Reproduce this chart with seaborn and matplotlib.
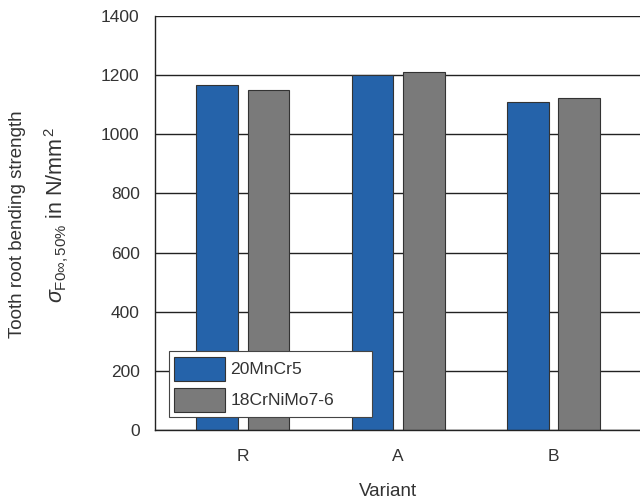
import pandas as pd
import seaborn as sns
import matplotlib.pyplot as plt

variants = ['R', 'A', 'B']
materials = ['20MnCr5', '18CrNiMo7-6']
strength_20mncr5 = [1168, 1202, 1110]
strength_18crnimo = [1149, 1211, 1122]
colors = ['#2563aa', '#7a7a7a']

df = pd.DataFrame({
    'variant': variants * 2,
    'material': [materials[0]] * 3 + [materials[1]] * 3,
    'strength': strength_20mncr5 + strength_18crnimo,
})

sns.set_style('white')
plt.rcParams['font.family'] = ['Liberation Sans', 'DejaVu Sans']
plt.rcParams['mathtext.fontset'] = 'custom'
plt.rcParams['mathtext.rm'] = 'Liberation Sans'
plt.rcParams['mathtext.it'] = 'Liberation Sans:italic'
plt.rcParams['mathtext.sf'] = 'Liberation Sans'
txt = '#333333'

fig = plt.figure(figsize=(6.4, 4.99), dpi=100)
ax = fig.add_axes([0.2422, 0.1383, 0.761, 0.8297])

sns.barplot(data=df, x='variant', y='strength', hue='material', order=variants,
            hue_order=materials, palette=colors, width=0.662, gap=0.19,
            edgecolor='#333333', linewidth=0.8, saturation=1, ax=ax)

ax.set_ylim(0, 1400)
ax.set_yticks(range(0, 1401, 200))
ax.set_xlim(-0.566, 2.57)
ax.set_axisbelow(True)
ax.yaxis.grid(True, color='#222222', linewidth=1.0)
for s in ['top', 'right']:
    ax.spines[s].set_visible(False)
for s in ['left', 'bottom']:
    ax.spines[s].set_color('#222222')
    ax.spines[s].set_linewidth(1.0)
ax.tick_params(axis='both', length=0, labelsize=12.5, labelcolor=txt)
ax.tick_params(axis='y', pad=11)
ax.tick_params(axis='x', pad=14)

ax.set_xlabel('Variant', fontsize=13.5, color=txt)
ax.xaxis.set_label_coords(0.478, -0.128)
ax.set_ylabel('')

fig.text(0.027, 0.55, 'Tooth root bending strength', rotation=90, ha='center',
         va='center', fontsize=13.5, color=txt)
fig.text(0.089, 0.569, r'$\sigma_{\mathrm{F0\infty,50\%}}$ in N/mm$^{\,2}$', rotation=90,
         ha='center', va='center', fontsize=15.5, color=txt)

leg = ax.legend(loc='lower left', bbox_to_anchor=(0.029, 0.031, 0.417, 0.1),
                mode='expand', fontsize=12.6,
                handlelength=2.9, handleheight=1.75, fancybox=False,
                edgecolor='#444444', framealpha=1, borderpad=0.3,
                labelspacing=0.4, handletextpad=0.3, borderaxespad=0)
leg.get_frame().set_linewidth(0.8)
for t in leg.get_texts():
    t.set_color(txt)

fig.savefig('out.png', dpi=100)
